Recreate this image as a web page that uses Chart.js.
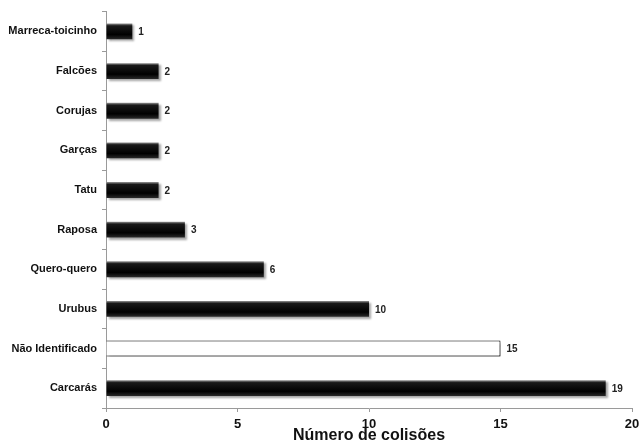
<!DOCTYPE html>
<html>
<head>
<meta charset="utf-8">
<script src="https://cdn.jsdelivr.net/npm/chart.js@4/dist/chart.umd.min.js"></script>
<style>
  html, body { margin: 0; padding: 0; background: #fff; }
  #wrap { width: 641px; height: 444px; }
</style>
</head>
<body>
<div id="wrap"><canvas id="c" width="641" height="444"></canvas></div>
<script>
// Collision counts by animal group
const categories = ['Marreca-toicinho', 'Falcões', 'Corujas', 'Garças', 'Tatu', 'Raposa', 'Quero-quero', 'Urubus', 'Não Identificado', 'Carcarás'];
const collisions = [1, 2, 2, 2, 2, 3, 6, 10, 15, 19];
const unidentifiedLabel = 'Não Identificado';
const xTicks = [0, 5, 10, 15, 20];
const axisTitle = 'Número de colisões';

const FONT = 'Arial, "Liberation Sans", sans-serif';

function barFill(ctx) {
  const chart = ctx.chart;
  const label = categories[ctx.dataIndex];
  if (label === unidentifiedLabel) return '#ffffff';
  const y = chart.scales && chart.scales.y;
  if (!chart.chartArea || !y || y.getPixelForValue(ctx.dataIndex) === undefined) return '#000';
  const cy = y.getPixelForValue(ctx.dataIndex);
  const g = chart.ctx.createLinearGradient(0, cy - 8, 0, cy + 8);
  g.addColorStop(0, '#9a9a9a');
  g.addColorStop(0.15, '#1a1a1a');
  g.addColorStop(0.7, '#000000');
  g.addColorStop(1, '#2a2a2a');
  return g;
}

// soft drop shadow under the bars
const barShadow = {
  id: 'barShadow',
  beforeDatasetDraw(chart) {
    const c = chart.ctx;
    c.save();
    c.shadowColor = 'rgba(0,0,0,0.35)';
    c.shadowBlur = 2;
    c.shadowOffsetX = 2;
    c.shadowOffsetY = 2;
  },
  afterDatasetDraw(chart) {
    chart.ctx.restore();
  }
};

// value written at the end of each bar
const valueLabels = {
  id: 'valueLabels',
  afterDatasetsDraw(chart) {
    const c = chart.ctx;
    const meta = chart.getDatasetMeta(0);
    c.save();
    c.font = 'bold 10px ' + FONT;
    c.fillStyle = '#222';
    c.textAlign = 'left';
    c.textBaseline = 'middle';
    meta.data.forEach((bar, i) => {
      c.fillText(String(collisions[i]), bar.x + 6, bar.y + 1);
    });
    c.restore();
  }
};

new Chart(document.getElementById('c'), {
  type: 'bar',
  data: {
    labels: categories,
    datasets: [{
      data: collisions,
      backgroundColor: barFill,
      borderColor: '#000',
      borderWidth: categories.map(l => l === unidentifiedLabel ? 1 : 0),
      barPercentage: 0.4,
      categoryPercentage: 1.0
    }]
  },
  plugins: [barShadow, valueLabels],
  options: {
    indexAxis: 'y',
    responsive: false,
    animation: false,
    layout: { padding: { top: 8, right: 9, left: 0, bottom: 0 } },
    plugins: {
      legend: { display: false },
      tooltip: { enabled: false }
    },
    scales: {
      x: {
        min: 0,
        max: 20,
        afterFit(scale) {
          scale.height = 36;
          scale.paddingLeft = 0;
          scale.paddingRight = 0;
        },
        afterBuildTicks(scale) { scale.ticks = xTicks.map(v => ({ value: v })); },
        border: { color: '#9a9a9a', width: 1 },
        grid: { drawOnChartArea: false, tickLength: 4, color: '#9a9a9a' },
        ticks: {
          color: '#111',
          padding: 5,
          font: { family: FONT, size: 13, weight: 'bold' }
        },
        title: {
          display: true,
          text: axisTitle,
          color: '#111',
          padding: { top: 0, bottom: 0 },
          font: { family: FONT, size: 16, weight: 'bold', lineHeight: 1.0 }
        }
      },
      y: {
        afterFit(scale) { scale.width = 106; },
        border: { color: '#9a9a9a', width: 1 },
        grid: { drawOnChartArea: false, tickLength: 4, color: '#9a9a9a', offset: true },
        ticks: {
          color: '#111',
          padding: 5,
          font: { family: FONT, size: 11, weight: 'bold' }
        }
      }
    }
  }
});
</script>
</body>
</html>
